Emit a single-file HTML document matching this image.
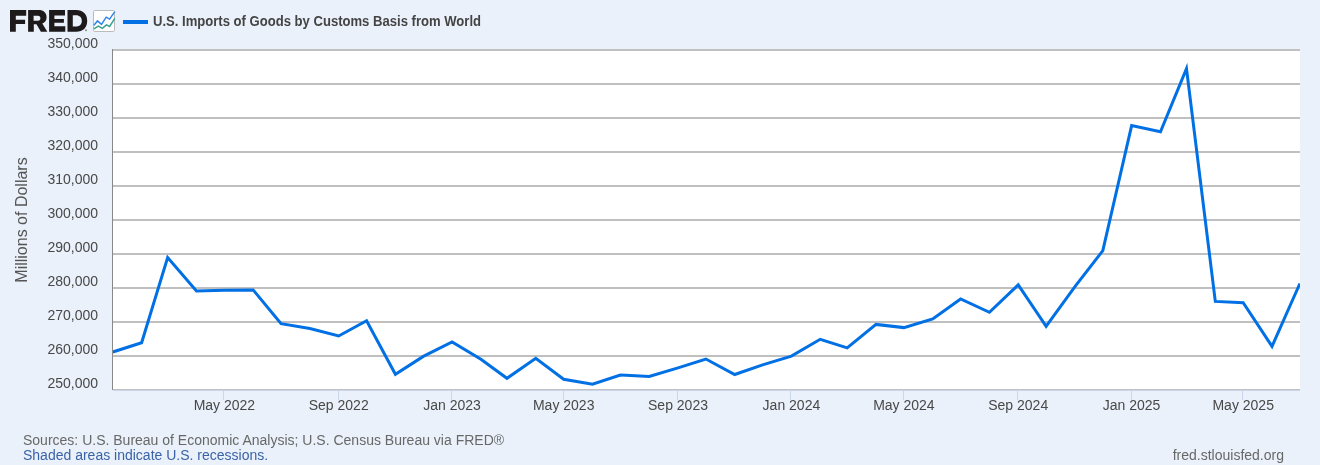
<!DOCTYPE html>
<html><head><meta charset="utf-8"><style>
html,body{margin:0;padding:0;background:#eaf1fa;}
body{width:1320px;height:465px;overflow:hidden;}
svg{display:block;will-change:transform;}
.tl{font-family:"Liberation Sans",sans-serif;font-size:14px;fill:#484848;}
.ti{font-family:"Liberation Sans",sans-serif;font-size:14px;font-weight:bold;fill:#444;}
.ft{font-family:"Liberation Sans",sans-serif;font-size:14px;fill:#686868;}
.fb{font-family:"Liberation Sans",sans-serif;font-size:14px;fill:#3a63a6;}
.ax{font-family:"Liberation Sans",sans-serif;font-size:16px;fill:#555;}
</style></head><body>
<svg width="1320" height="465" viewBox="0 0 1320 465">
<rect x="0" y="0" width="1320" height="465" fill="#eaf1fa"/>
<!-- FRED logo -->
<g fill="#1c1a1b">
<path d="M10 10.1H26.2V15.8H15.8V19.7H25.1V23.9H15.8V31.7H10Z"/>
<path d="M28.1 10.1H38.5C43.5 10.1 46.6 12.8 46.6 17.2C46.6 20.3 45 22.5 42.3 23.5L47.3 31.7H40.9L36.5 24.3H33.8V31.7H28.1ZM33.6 15.7V20.7H38C39.7 20.7 40.4 19.8 40.4 18.2C40.4 16.6 39.7 15.7 38 15.7Z"/>
<path d="M49.1 10.1H65V15.4H54.4V18.9H63.9V22.8H54.4V26.3H65.3V31.7H49.1Z"/>
<path d="M67.5 10.1H76.2C83 10.1 87.2 14.3 87.2 20.9C87.2 27.5 83 31.7 76.2 31.7H67.5ZM72.8 15.3V26.4H76C79.6 26.4 81.8 24.3 81.8 20.9C81.8 17.5 79.6 15.3 76 15.3Z"/>
</g>
<circle cx="86" cy="30.2" r="1" fill="#8a8a8a"/>
<!-- icon -->
<rect x="93.5" y="10.5" width="21" height="21" rx="1.2" fill="#fff" stroke="#bbb" stroke-width="1"/>
<polyline points="93.9,25.2 97.5,20.9 101.5,24.4 106.2,17.2 109.6,19.1 114.8,11.6" fill="none" stroke="#2f86ea" stroke-width="1.5"/>
<polyline points="93.9,28.9 98.4,26.2 102.3,28.3 106.5,24.8 109.6,26.4 114.8,18.4" fill="none" stroke="#38a08e" stroke-width="1.5"/>
<!-- legend -->
<rect x="123" y="20" width="25" height="4" fill="#0070e4"/>
<text x="153" y="26" class="ti" textLength="328" lengthAdjust="spacingAndGlyphs">U.S. Imports of Goods by Customs Basis from World</text>
<!-- plot -->
<rect x="113" y="50" width="1187" height="340" fill="#fff"/>
<rect x="113" y="49" width="1187" height="2" fill="#c0c0c0"/><rect x="113" y="83" width="1187" height="2" fill="#c0c0c0"/><rect x="113" y="117" width="1187" height="2" fill="#c0c0c0"/><rect x="113" y="151" width="1187" height="2" fill="#c0c0c0"/><rect x="113" y="185" width="1187" height="2" fill="#c0c0c0"/><rect x="113" y="219" width="1187" height="2" fill="#c0c0c0"/><rect x="113" y="253" width="1187" height="2" fill="#c0c0c0"/><rect x="113" y="287" width="1187" height="2" fill="#c0c0c0"/><rect x="113" y="321" width="1187" height="2" fill="#c0c0c0"/><rect x="113" y="355" width="1187" height="2" fill="#c0c0c0"/>
<rect x="113" y="389" width="1187" height="1" fill="#c0c0c0"/>
<rect x="113" y="390" width="1187" height="1" fill="#ccd6eb"/>
<rect x="112" y="49" width="1" height="341" fill="#888"/>
<line x1="223.5" y1="390" x2="223.5" y2="400" stroke="#ccd6eb" stroke-width="1"/><line x1="338.5" y1="390" x2="338.5" y2="400" stroke="#ccd6eb" stroke-width="1"/><line x1="451.5" y1="390" x2="451.5" y2="400" stroke="#ccd6eb" stroke-width="1"/><line x1="563.5" y1="390" x2="563.5" y2="400" stroke="#ccd6eb" stroke-width="1"/><line x1="677.5" y1="390" x2="677.5" y2="400" stroke="#ccd6eb" stroke-width="1"/><line x1="790.5" y1="390" x2="790.5" y2="400" stroke="#ccd6eb" stroke-width="1"/><line x1="903.5" y1="390" x2="903.5" y2="400" stroke="#ccd6eb" stroke-width="1"/><line x1="1017.5" y1="390" x2="1017.5" y2="400" stroke="#ccd6eb" stroke-width="1"/><line x1="1131.5" y1="390" x2="1131.5" y2="400" stroke="#ccd6eb" stroke-width="1"/><line x1="1242.5" y1="390" x2="1242.5" y2="400" stroke="#ccd6eb" stroke-width="1"/>
<svg x="113" y="0" width="1187" height="465" viewBox="113 0 1187 465" overflow="hidden">
<path d="M112.80 352.00 L141.62 342.70 L167.65 257.50 L196.46 290.90 L224.35 290.20 L253.17 289.90 L281.06 323.70 L309.88 328.50 L338.69 336.00 L366.58 320.70 L395.40 374.30 L423.29 356.40 L452.10 342.00 L480.92 359.20 L506.95 378.30 L535.77 358.30 L563.66 379.30 L592.47 384.20 L620.36 375.00 L649.18 376.50 L678.00 367.90 L705.89 359.00 L734.70 374.50 L762.59 364.90 L791.41 356.10 L820.23 339.30 L847.18 347.90 L876.00 324.40 L903.89 327.60 L932.71 319.00 L960.60 299.00 L989.41 312.30 L1018.23 284.80 L1046.12 326.30 L1074.94 286.60 L1102.82 250.60 L1131.64 125.60 L1160.46 131.80 L1186.49 68.60 L1215.31 301.40 L1243.19 302.70 L1272.01 346.30 L1299.90 283.50" fill="none" stroke="#0070e4" stroke-width="3" stroke-linejoin="miter"/>
</svg>
<text x="98" y="47.5" text-anchor="end" class="tl">350,000</text><text x="98" y="81.5" text-anchor="end" class="tl">340,000</text><text x="98" y="115.5" text-anchor="end" class="tl">330,000</text><text x="98" y="149.5" text-anchor="end" class="tl">320,000</text><text x="98" y="183.5" text-anchor="end" class="tl">310,000</text><text x="98" y="217.5" text-anchor="end" class="tl">300,000</text><text x="98" y="251.5" text-anchor="end" class="tl">290,000</text><text x="98" y="285.5" text-anchor="end" class="tl">280,000</text><text x="98" y="319.5" text-anchor="end" class="tl">270,000</text><text x="98" y="353.5" text-anchor="end" class="tl">260,000</text><text x="98" y="387.5" text-anchor="end" class="tl">250,000</text>
<text x="224.4" y="410" text-anchor="middle" class="tl">May 2022</text><text x="338.7" y="410" text-anchor="middle" class="tl">Sep 2022</text><text x="452.1" y="410" text-anchor="middle" class="tl">Jan 2023</text><text x="563.7" y="410" text-anchor="middle" class="tl">May 2023</text><text x="678.0" y="410" text-anchor="middle" class="tl">Sep 2023</text><text x="791.4" y="410" text-anchor="middle" class="tl">Jan 2024</text><text x="903.9" y="410" text-anchor="middle" class="tl">May 2024</text><text x="1018.2" y="410" text-anchor="middle" class="tl">Sep 2024</text><text x="1131.6" y="410" text-anchor="middle" class="tl">Jan 2025</text><text x="1243.2" y="410" text-anchor="middle" class="tl">May 2025</text>
<text x="0" y="0" transform="translate(26.5,220) rotate(-90)" text-anchor="middle" class="ax">Millions of Dollars</text>
<text x="23" y="444.7" class="ft">Sources: U.S. Bureau of Economic Analysis; U.S. Census Bureau via FRED®</text>
<text x="23" y="459.7" class="fb">Shaded areas indicate U.S. recessions.</text>
<text x="1284" y="459.5" text-anchor="end" class="ft">fred.stlouisfed.org</text>
</svg>
</body></html>
